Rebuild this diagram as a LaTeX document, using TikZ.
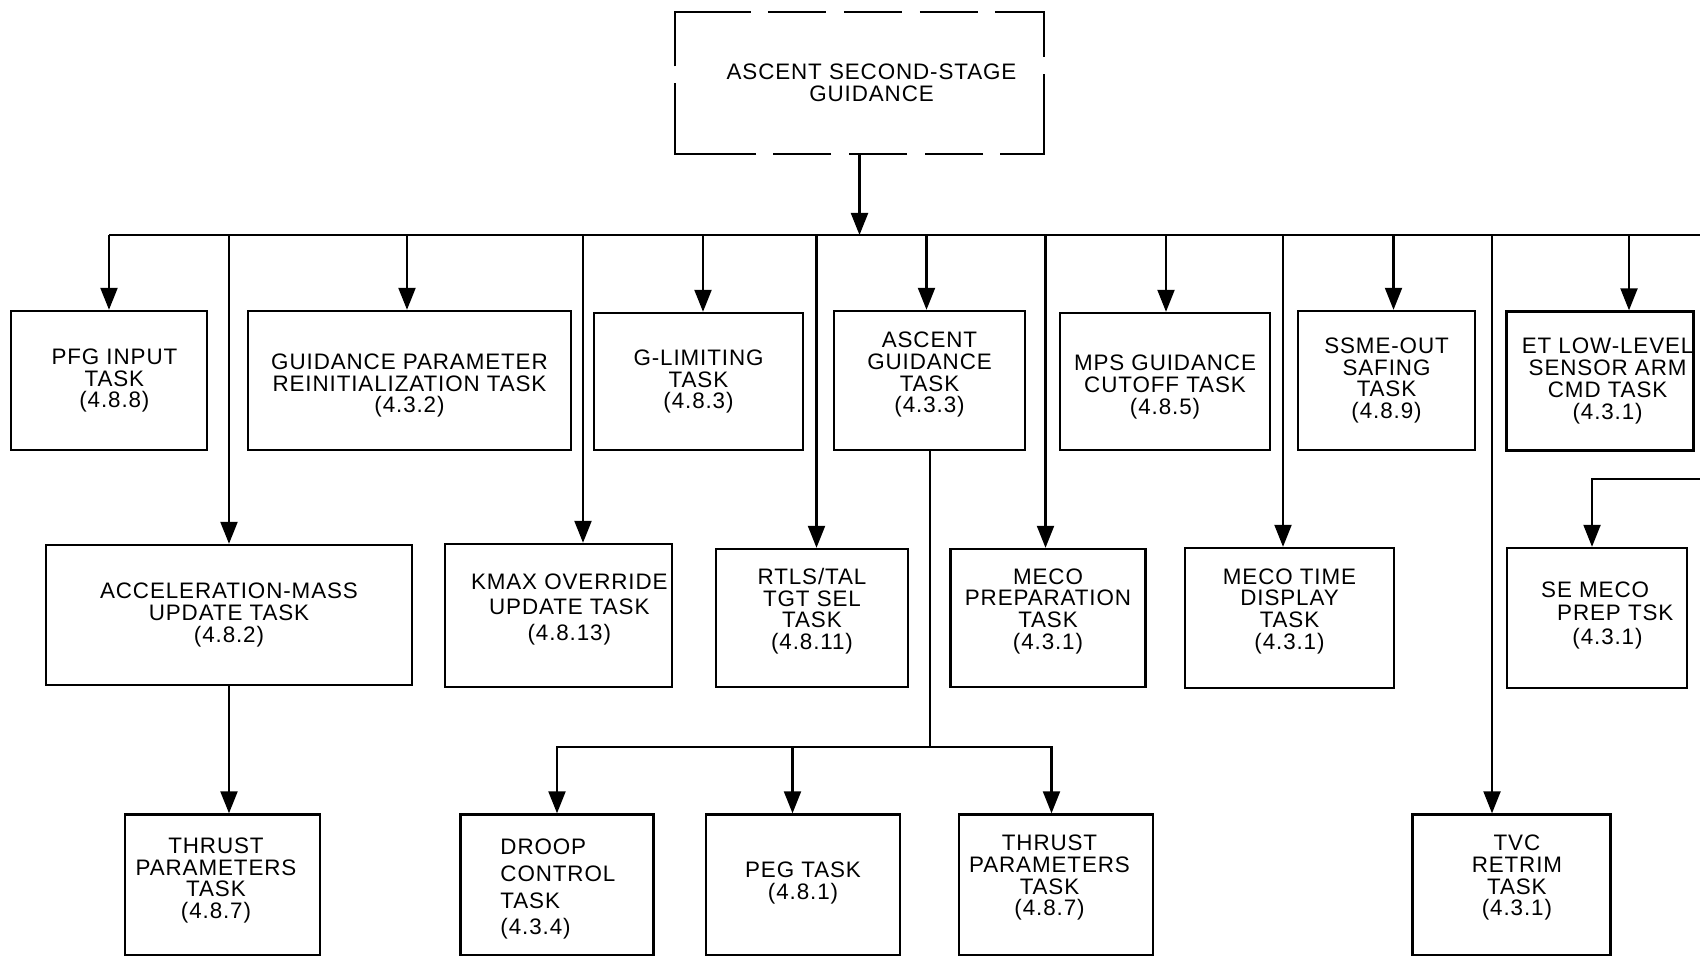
\documentclass[tikz,border=0pt]{standalone}
\usepackage{fontspec}
\usetikzlibrary{arrows.meta}
\newfontfamily\taskfont{Liberation Sans}[LetterSpace=4]
\newcommand\dn[1]{\rule[-#1]{0pt}{#1}}
\newcommand\up[1]{\rule{0pt}{#1}}
\begin{document}
\begin{tikzpicture}[x=0.5pt,y=-0.5pt,
  box/.style={draw, line width=1.2pt, align=center, inner sep=0pt,
    font=\taskfont\fontsize{11.2pt}{10.85pt}\selectfont},
  arr/.style={line width=1.1pt, -{Triangle[length=11pt,width=8.5pt]}},
  ln/.style={line width=1.1pt},
  row1/.style={box, minimum height=69.5pt},
  row2/.style={box, minimum height=69.5pt},
  row3/.style={box, minimum height=70.5pt}]
\useasboundingbox (0,0) rectangle (1700,956);
\clip (0,0) rectangle (1700,956);
% top dashed box
\node[box, draw=none, minimum width=183.5pt, minimum height=70pt] (top) at (859.5,83) {\hspace*{12pt}ASCENT SECOND-STAGE\\\hspace*{12pt}GUIDANCE};
\draw[line width=1.2pt, line join=miter,
  dash pattern=on 61.5pt off 8.5pt on 29pt off 9pt on 29pt off 9pt on 29pt off 8.5pt on 47.5pt off 8.5pt on 62pt off 8.5pt on 29pt off 9pt on 29pt off 9pt on 29pt off 8.5pt on 76pt off 8.5pt]
  ([yshift=-23.5pt]top.north west) -- (top.north west) -- (top.north east) -- (top.south east) -- (top.south west) -- cycle;
% row 1
\node[row1, minimum width=98pt] (pfg) at (109,380.5) {\hspace*{5.4pt}PFG INPUT\\\hspace*{5.4pt}TASK\\\hspace*{5.4pt}(4.8.8)};
\node[row1, minimum width=161.5pt] (gpr) at (409.5,380.5) {\up{13.1pt}GUIDANCE PARAMETER\\REINITIALIZATION TASK\\(4.3.2)};
\node[row1, minimum width=104.5pt, minimum height=68.5pt] (glim) at (698.5,381.5) {G-LIMITING\\TASK\\(4.8.3)};
\node[row1, minimum width=95.5pt] (agt) at (929.5,380.5) {ASCENT\\GUIDANCE\\TASK\\(4.3.3)\dn{8.1pt}};
\node[row1, minimum width=105pt, minimum height=68.5pt] (mps) at (1165,381.5) {\up{13.5pt}MPS GUIDANCE\\CUTOFF TASK\\(4.8.5)};
\node[row1, minimum width=88.5pt] (ssme) at (1386.5,380.5) {SSME-OUT\\SAFING\\TASK\\(4.8.9)};
\node[row1, minimum width=93pt] (etl) at (1600,381) {\hspace*{7.6pt}ET LOW-LEVEL\\\hspace*{7.6pt}SENSOR ARM\\\hspace*{7.6pt}CMD TASK\\\hspace*{7.6pt}(4.3.1)};
% row 2
\node[row2, minimum width=183pt, minimum height=70pt] (acc) at (229,615) {ACCELERATION-MASS\\UPDATE TASK\\(4.8.2)};
\node[row2, minimum width=113.5pt, minimum height=71.5pt, font=\taskfont\fontsize{11.2pt}{12.7pt}\selectfont] (kmax) at (558.5,615.5) {\hspace*{10.8pt}KMAX OVERRIDE\\\hspace*{10.8pt}UPDATE TASK\\\hspace*{10.8pt}(4.8.13)\dn{8.6pt}};
\node[row2, minimum width=96pt, minimum height=69pt] (rtls) at (812,618) {RTLS/TAL\\TGT SEL\\TASK\\(4.8.11)\dn{9pt}};
\node[row2, minimum width=97.5pt, minimum height=69pt] (mecop) at (1048,618) {MECO\\PREPARATION\\TASK\\(4.3.1)\dn{9pt}};
\node[row2, minimum width=104.5pt, minimum height=70pt] (mecot) at (1289.5,618) {MECO TIME\\DISPLAY\\TASK\\(4.3.1)\dn{9pt}};
\node[row2, minimum width=90pt, minimum height=70pt, align=left, font=\taskfont\fontsize{11.2pt}{11.6pt}\selectfont] (semeco) at (1597,618) {\hspace*{10.3pt}SE MECO\\\hspace*{18.3pt}PREP TSK\\\hspace*{25.9pt}(4.3.1)\dn{5pt}};
% row 3
\node[row3, minimum width=97.5pt] (thr1) at (222.5,885) {\hspace*{-6.5pt}THRUST\\\hspace*{-6.5pt}PARAMETERS\\\hspace*{-6.5pt}TASK\\\hspace*{-6.5pt}(4.8.7)\dn{6.8pt}};
\node[row3, minimum width=96.5pt, align=left, font=\taskfont\fontsize{11.2pt}{13.4pt}\selectfont] (droop) at (557,885) {\hspace*{8.5pt}\up{12pt}DROOP\\\hspace*{8.5pt}CONTROL\\\hspace*{8.5pt}TASK\\\hspace*{8.5pt}(4.3.4)\hspace*{30pt}};
\node[row3, minimum width=97pt] (peg) at (803,885) {PEG TASK\\(4.8.1)\dn{4.3pt}};
\node[row3, minimum width=97pt] (thr2) at (1056,885) {\hspace*{-6.5pt}THRUST\\\hspace*{-6.5pt}PARAMETERS\\\hspace*{-6.5pt}TASK\\\hspace*{-6.5pt}(4.8.7)\dn{9.5pt}};
\node[row3, minimum width=99pt] (tvc) at (1511.5,885) {\hspace*{5.4pt}TVC\\\hspace*{5.4pt}RETRIM\\\hspace*{5.4pt}TASK\\\hspace*{5.4pt}(4.3.1)\dn{9.5pt}};
% bus
\coordinate (busL) at (109,235);
\coordinate (busR) at (1700,235);
\draw[arr] (top.south) -- (top.south |- busL);
\draw[ln] (busL) -- (busR);
\coordinate (tpfg) at (109,235);
\coordinate (tgpr) at (407,235);
\coordinate (tglim) at (703,235);
\coordinate (tagt) at (926.5,235);
\coordinate (tmps) at (1166,235);
\coordinate (tssme) at (1393.5,235);
\coordinate (tetl) at (1629,235);
\coordinate (tacc) at (229,235);
\coordinate (tkmax) at (583,235);
\coordinate (trtls) at (816.5,235);
\coordinate (tmecop) at (1045.5,235);
\coordinate (tmecot) at (1283,235);
\coordinate (ttvc) at (1492,235);
\draw[arr] (tpfg) -- (tpfg |- pfg.north);
\draw[arr] (tgpr) -- (tgpr |- gpr.north);
\draw[arr] (tglim) -- (tglim |- glim.north);
\draw[arr] (tagt) -- (tagt |- agt.north);
\draw[arr] (tmps) -- (tmps |- mps.north);
\draw[arr] (tssme) -- (tssme |- ssme.north);
\draw[arr] (tetl) -- (tetl |- etl.north);
\draw[arr] (tacc) -- (tacc |- acc.north);
\draw[arr] (tkmax) -- (tkmax |- kmax.north);
\draw[arr] (trtls) -- (trtls |- rtls.north);
\draw[arr] (tmecop) -- (tmecop |- mecop.north);
\draw[arr] (tmecot) -- (tmecot |- mecot.north);
\draw[arr] (ttvc) -- (ttvc |- tvc.north);
% acc -> thrust
\draw[arr] (acc.south) -- (acc.south |- thr1.north);
% ascent guidance task branch
\coordinate (br) at (930,747);
\coordinate (bpeg) at (792.5,747);
\coordinate (bthr) at (1051.5,747);
\draw[ln] (agt.south -| br) -- (br);
\draw[arr] (br) -| (droop.north);
\draw[arr] (bpeg) -- (bpeg |- peg.north);
\draw[arr] (br) -- (bthr) -- (bthr |- thr2.north);
% se meco feed
\coordinate (seR) at (1700,479);
\coordinate (seT) at (1592,479);
\draw[arr] (seR) -- (seT) -- (seT |- semeco.north);
\end{tikzpicture}
\end{document}
